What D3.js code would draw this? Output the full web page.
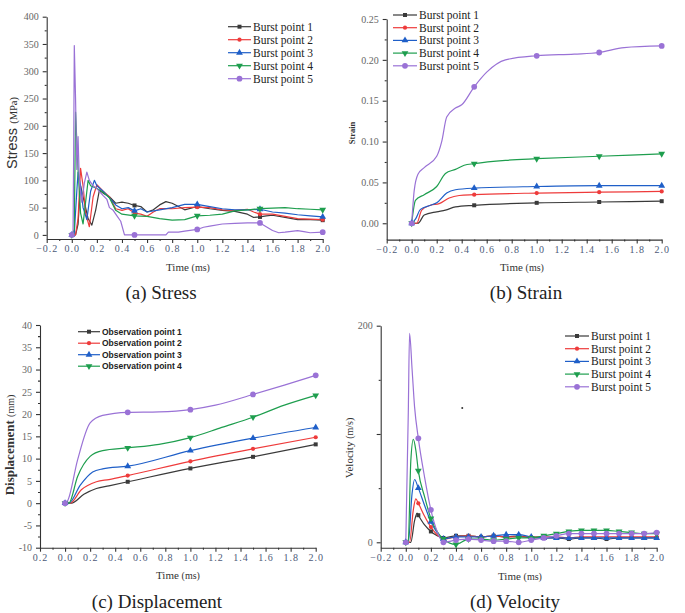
<!DOCTYPE html>
<html><head><meta charset="utf-8">
<script src="https://cdn.jsdelivr.net/npm/d3@7"></script>
<style>body{margin:0;background:#fff}svg{display:block}</style>
</head><body>
<svg id="c" width="685" height="613"></svg>
<script>
// ---------- DATA ----------
const seriesColors = ["#3a3a3a", "#ee3b3b", "#1f5fc8", "#1e9e4e", "#9a72d6"];
const seriesSymbols = ["square", "circle", "triangle", "triangleDown", "dot"];
const burstNames = ["Burst point 1", "Burst point 2", "Burst point 3", "Burst point 4", "Burst point 5"];
const obsNames = ["Observation point 1", "Observation point 2", "Observation point 3", "Observation point 4"];
const xTicks = [-0.2, 0.0, 0.2, 0.4, 0.6, 0.8, 1.0, 1.2, 1.4, 1.6, 1.8, 2.0];
const markTimesCoarse = [0, 0.5, 1.0, 1.5, 2.0];
const markTimesFine = [0,0.1,0.2,0.3,0.4,0.5,0.6,0.7,0.8,0.9,1.0,1.1,1.2,1.3,1.4,1.5,1.6,1.7,1.8,1.9,2.0];

// (a) Stress (MPa) vs time (ms)
const stress1 = [[0,0],[0.03,0],[0.05,20],[0.07,90],[0.1,60],[0.13,30],[0.16,18],[0.19,45],[0.22,82],[0.26,75],[0.3,70],[0.35,58],[0.4,60],[0.45,58],[0.5,54],[0.55,52],[0.6,42],[0.65,46],[0.7,55],[0.75,61],[0.8,58],[0.9,46],[1.0,52],[1.1,48],[1.2,45],[1.3,43],[1.4,38],[1.45,32],[1.5,33],[1.55,35],[1.6,36],[1.7,32],[1.8,28],[1.9,28],[2.0,27]];
const stress2 = [[0,0],[0.03,0],[0.05,30],[0.07,122],[0.09,90],[0.11,40],[0.14,15],[0.17,70],[0.2,92],[0.25,80],[0.3,70],[0.35,48],[0.4,45],[0.45,48],[0.5,40],[0.55,38],[0.6,34],[0.65,42],[0.7,48],[0.8,48],[0.9,50],[1.0,51],[1.1,50],[1.2,46],[1.3,45],[1.4,47],[1.45,42],[1.5,38],[1.6,38],[1.7,34],[1.8,30],[1.9,29],[2.0,28]];
const stress3 = [[0,0],[0.02,3],[0.04,80],[0.05,115],[0.07,90],[0.09,50],[0.12,28],[0.15,80],[0.18,100],[0.2,90],[0.25,80],[0.3,68],[0.35,55],[0.4,48],[0.45,50],[0.5,44],[0.55,48],[0.6,42],[0.7,46],[0.8,50],[0.9,56],[1.0,56],[1.1,52],[1.2,48],[1.3,46],[1.4,46],[1.5,47],[1.6,42],[1.7,40],[1.8,37],[1.9,35],[2.0,33]];
const stress4 = [[0,0],[0.02,10],[0.03,225],[0.05,120],[0.07,40],[0.09,20],[0.11,60],[0.13,100],[0.15,90],[0.2,85],[0.25,78],[0.3,68],[0.35,45],[0.4,38],[0.5,35],[0.6,34],[0.7,30],[0.8,27],[0.9,28],[1.0,35],[1.1,36],[1.2,38],[1.3,44],[1.4,46],[1.5,48],[1.6,49],[1.7,50],[1.8,48],[1.9,47],[2.0,46]];
const stress5 = [[0,0],[0.01,5],[0.015,150],[0.02,347],[0.03,250],[0.04,120],[0.05,180],[0.06,100],[0.08,60],[0.1,95],[0.12,115],[0.14,100],[0.17,90],[0.2,85],[0.25,72],[0.28,65],[0.3,50],[0.33,45],[0.36,35],[0.39,25],[0.42,0],[0.5,0],[0.6,0],[0.75,0],[0.77,5],[0.85,5],[0.9,7],[1.0,10],[1.05,14],[1.1,16],[1.2,20],[1.3,21],[1.4,22],[1.5,22],[1.55,15],[1.6,8],[1.65,4],[1.7,5],[1.8,8],[1.85,6],[1.9,4],[2.0,5]];
const stressTicks = [0,50,100,150,200,250,300,350,400];

// (b) Strain vs time (ms)
const strain1 = [[0,0],[0.05,0],[0.1,0.010],[0.2,0.014],[0.27,0.016],[0.35,0.020],[0.5,0.022],[1.0,0.025],[1.5,0.026],[2.0,0.027]];
const strain2 = [[0,0],[0.04,0],[0.08,0.016],[0.15,0.022],[0.22,0.024],[0.3,0.031],[0.38,0.034],[0.5,0.035],[1.0,0.037],[1.5,0.038],[2.0,0.039]];
const strain3 = [[0,0],[0.03,0.005],[0.07,0.017],[0.15,0.022],[0.2,0.025],[0.28,0.037],[0.35,0.041],[0.5,0.043],[1.0,0.045],[1.5,0.046],[2.0,0.046]];
const strain4 = [[0,0],[0.03,0.028],[0.1,0.035],[0.2,0.045],[0.27,0.061],[0.35,0.066],[0.42,0.071],[0.5,0.073],[0.75,0.077],[1.0,0.079],[1.5,0.082],[2.0,0.085]];
const strain5 = [[0,0],[0.02,0.040],[0.05,0.060],[0.1,0.068],[0.2,0.082],[0.24,0.100],[0.28,0.130],[0.35,0.141],[0.4,0.145],[0.5,0.167],[0.6,0.185],[0.75,0.200],[1.0,0.205],[1.3,0.207],[1.5,0.209],[1.7,0.215],[2.0,0.217]];
const strainTicks = [0,0.05,0.10,0.15,0.20,0.25];
const strainLabels = ["0.00","0.05","0.10","0.15","0.20","0.25"];

// (c) Displacement (mm) vs time (ms)
const disp1 = [[0,0],[0.05,0],[0.15,2.0],[0.25,3.3],[0.35,3.9],[0.5,4.8],[1.0,7.8],[1.5,10.4],[2.0,13.2]];
const disp2 = [[0,0],[0.04,0],[0.13,3.0],[0.25,4.8],[0.35,5.3],[0.5,6.2],[1.0,9.4],[1.5,12.2],[2.0,14.8]];
const disp3 = [[0,0],[0.03,0],[0.12,4.0],[0.22,7.0],[0.3,7.7],[0.5,8.3],[1.0,11.8],[1.5,14.6],[2.0,17.0]];
const disp4 = [[0,0],[0.03,0],[0.1,6.0],[0.2,10.5],[0.3,11.8],[0.5,12.4],[0.75,13.2],[1.0,14.7],[1.25,17.0],[1.5,19.3],[1.75,22.0],[2.0,24.2]];
const disp5 = [[0,0],[0.02,0.5],[0.1,9.7],[0.2,18.0],[0.3,19.7],[0.5,20.4],[0.75,20.5],[1.0,21.0],[1.2,22.0],[1.5,24.4],[1.75,26.5],[2.0,28.7]];
const dispTicks = [-10,-5,0,5,10,15,20,25,30,35,40];

// (d) Velocity (m/s) vs time (ms)
const vel1 = [[0,0],[0.04,0],[0.07,20],[0.09,27],[0.1,25],[0.15,16],[0.2,10],[0.25,6],[0.3,4],[0.4,6],[0.5,6],[0.6,5],[0.7,6],[0.8,5],[0.9,6],[1.0,4],[1.1,4],[1.2,4],[1.3,3],[1.4,4],[1.5,4],[1.6,3],[1.7,4],[1.8,4],[1.9,4],[2.0,4]];
const vel2 = [[0,0],[0.03,0],[0.06,30],[0.08,40],[0.1,36],[0.15,24],[0.2,14],[0.25,7],[0.3,3],[0.4,5],[0.5,6],[0.6,5],[0.7,6],[0.8,5],[0.9,5],[1.0,5],[1.1,5],[1.2,5],[1.3,4],[1.4,5],[1.5,5],[1.6,5],[1.7,5],[1.8,5],[1.9,5],[2.0,5]];
const vel3 = [[0,0],[0.02,0],[0.05,45],[0.07,58],[0.1,50],[0.15,34],[0.2,19],[0.25,9],[0.3,3],[0.4,5],[0.5,5],[0.6,5],[0.7,6],[0.8,7],[0.9,7],[1.0,5],[1.1,4],[1.2,4],[1.3,4],[1.4,4],[1.5,4],[1.6,4],[1.7,4],[1.8,4],[1.9,4],[2.0,4]];
const vel4 = [[0,0],[0.02,2],[0.04,75],[0.06,95],[0.08,85],[0.1,66],[0.15,42],[0.2,22],[0.25,10],[0.3,3],[0.4,-2],[0.5,3],[0.6,3],[0.7,2],[0.8,3],[0.9,4],[1.0,4],[1.1,6],[1.2,8],[1.3,10],[1.4,11],[1.5,11],[1.6,11],[1.7,10],[1.8,9],[1.9,8],[2.0,8]];
const vel5 = [[0,0],[0.02,120],[0.03,193],[0.05,160],[0.07,125],[0.1,96],[0.15,60],[0.2,30],[0.25,10],[0.3,0],[0.4,2],[0.5,3],[0.6,2],[0.7,1],[0.8,1],[0.9,0],[1.0,2],[1.1,4],[1.2,6],[1.3,8],[1.4,8],[1.5,8],[1.6,8],[1.7,8],[1.8,8],[1.9,8],[2.0,9]];
const velTicks = [0,100,200];
const velLabels = ["0","","200"];
const velStray = [[0.45,124]];

// ---------- DRAWING ----------
const svg = d3.select("#c");
const serif = "'Liberation Serif','Times New Roman',serif";
const sans = "'Liberation Sans',Arial,sans-serif";
const tickColor = "#4d5a78";

function symbolPath(kind, sz) {
  const types = {square: d3.symbolSquare, circle: d3.symbolCircle, triangle: d3.symbolTriangle,
                 triangleDown: d3.symbolTriangle, dot: d3.symbolCircle};
  return d3.symbol().type(types[kind]).size(sz)();
}
function drawMarker(g, kind, color, x, y) {
  const sizes = {square: 16, circle: 14, triangle: 20, triangleDown: 20, dot: 26};
  g.append("path").attr("d", symbolPath(kind, sizes[kind]))
    .attr("transform", `translate(${x},${y})` + (kind === "triangleDown" ? " rotate(180)" : ""))
    .attr("fill", color);
}

function panel(cfg) {
  const g = svg.append("g");
  const x = d3.scaleLinear().domain([-0.2, 2.0]).range(cfg.xr);
  const y = d3.scaleLinear().domain(cfg.yd).range(cfg.yr);
  const ya = d3.axisLeft(y).tickValues(cfg.yTicks).tickSize(4).tickSizeOuter(0)
    .tickFormat((d, i) => cfg.yLabels ? cfg.yLabels[i] : String(d));
  const yg = g.append("g").attr("transform", `translate(${cfg.xr[0]},0)`).call(ya);
  const yMinor = [];
  for (let i = 0; i < cfg.yTicks.length - 1; i++) yMinor.push((cfg.yTicks[i] + cfg.yTicks[i+1]) / 2);
  const ym = g.append("g").attr("transform", `translate(${cfg.xr[0]},0)`)
    .call(d3.axisLeft(y).tickValues(yMinor).tickSize(2).tickFormat(""));
  ym.select(".domain").remove();
  yg.selectAll("text").attr("font-family", serif).attr("font-size", cfg.yFont || 10).attr("fill", "#666").attr("dx", -1);
  const xa = d3.axisBottom(x).tickValues(xTicks).tickSize(4).tickSizeOuter(0)
    .tickFormat(d => cfg.noMinus && d < 0 ? "0.2" : (d < 0 ? "\u22120.2" : d.toFixed(1)));
  const xg = g.append("g").attr("transform", `translate(0,${cfg.yr[0]})`).call(xa);
  const xMinor = xTicks.slice(0, -1).map(d => d + 0.1);
  const xm = g.append("g").attr("transform", `translate(0,${cfg.yr[0]})`)
    .call(d3.axisBottom(x).tickValues(xMinor).tickSize(2).tickFormat(""));
  xm.select(".domain").remove();
  xg.selectAll("text").attr("font-family", serif).attr("font-size", 10).attr("fill", tickColor)
    .attr("letter-spacing", "1px").attr("dy", "0.6em");
  g.selectAll(".domain, .tick line").attr("stroke", "#333").attr("stroke-width", 1.1);
  const line = d3.line().x(d => x(d[0])).y(d => y(d[1])).curve(cfg.curve);
  cfg.series.forEach((s, i) => {
    g.append("path").datum(s).attr("d", line).attr("fill", "none")
      .attr("stroke", seriesColors[i]).attr("stroke-width", 1.2).attr("stroke-linejoin", "round");
  });
  cfg.series.forEach((s, i) => {
    s.filter(d => cfg.marks.some(m => Math.abs(m - d[0]) < 1e-6))
      .forEach(d => drawMarker(g, seriesSymbols[i], seriesColors[i], x(d[0]), y(d[1])));
  });
  cfg.legendNames.forEach((name, i) => {
    const ly = cfg.legend[1] + i * cfg.legend[2];
    const lx = cfg.legend[0];
    g.append("line").attr("x1", lx).attr("x2", lx + cfg.legend[3]).attr("y1", ly).attr("y2", ly)
      .attr("stroke", seriesColors[i]).attr("stroke-width", 1.2);
    drawMarker(g, seriesSymbols[i], seriesColors[i], lx + cfg.legend[3] / 2, ly);
    g.append("text").attr("x", lx + cfg.legend[3] + 2).attr("y", ly).attr("dy", "0.35em")
      .attr("font-family", cfg.legendFamily).attr("font-size", cfg.legendSize)
      .attr("font-weight", cfg.legendWeight || "normal").attr("fill", "#222").text(name);
  });
  const xt = g.append("text").attr("x", cfg.xTitle[0]).attr("y", cfg.xTitle[1]).attr("text-anchor", "middle")
    .attr("font-family", serif).attr("font-size", 11).attr("fill", "#333");
  xt.append("tspan").text("Time ");
  xt.append("tspan").attr("font-size", 10).text("(ms)");
  const yt = g.append("text").attr("transform", `translate(${cfg.yTitle[0]},${cfg.yTitle[1]}) rotate(-90)`)
    .attr("text-anchor", "middle").attr("fill", "#333");
  cfg.yTitleParts.forEach(p => yt.append("tspan").attr("font-family", p[1]).attr("font-size", p[2])
    .attr("font-weight", p[3] || "normal").text(p[0]));
  g.append("text").attr("x", cfg.caption[0]).attr("y", cfg.caption[1]).attr("text-anchor", "middle")
    .attr("font-family", serif).attr("font-size", 19).attr("fill", "#222").text(cfg.caption[2]);
  return {g, x, y};
}

panel({xr: [46.7, 322.7], yd: [-7.5, 400], yr: [239, 16.7], yTicks: stressTicks,
  series: [stress1, stress2, stress3, stress4, stress5], curve: d3.curveLinear, marks: markTimesCoarse,
  legendNames: burstNames, legend: [228, 26.7, 13, 23], legendFamily: serif, legendSize: 11.5,
  xTitle: [188, 271], yTitle: [17, 133], yTitleParts: [["Stress ", sans, 14.5], ["(MPa)", serif, 10.5]],
  caption: [161, 299, "(a) Stress"]});

panel({xr: [386.7, 661.7], yd: [-0.02, 0.25], yr: [239.6, 19], yTicks: strainTicks, yLabels: strainLabels,
  series: [strain1, strain2, strain3, strain4, strain5], curve: d3.curveMonotoneX, marks: markTimesCoarse,
  legendNames: burstNames, legend: [393, 15, 12.7, 24], legendFamily: serif, legendSize: 11.5,
  xTitle: [522, 271], yTitle: [355, 133], yTitleParts: [["Strain", serif, 8.5, "bold"]],
  caption: [526, 299, "(b) Strain"]});

panel({xr: [40, 315.7], yd: [-10, 40], yr: [547.7, 325], yTicks: dispTicks, noMinus: true,
  series: [disp1, disp2, disp3, disp4, disp5], curve: d3.curveMonotoneX, marks: markTimesCoarse,
  legendNames: obsNames, legend: [78, 331.7, 11.5, 22], legendFamily: sans, legendSize: 8.5, legendWeight: "bold",
  xTitle: [178, 579], yTitle: [14, 445], yTitleParts: [["Displacement ", serif, 13, "bold"], ["(mm)", serif, 10]],
  caption: [157, 608, "(c) Displacement"]});

const d = panel({xr: [380.7, 656.7], yd: [-5, 200], yr: [547.7, 325.7], yTicks: velTicks, yLabels: velLabels,
  series: [vel1, vel2, vel3, vel4, vel5], curve: d3.curveMonotoneX, marks: markTimesFine,
  legendNames: burstNames, legend: [565, 336, 12.7, 24], legendFamily: serif, legendSize: 11.5,
  xTitle: [520, 580], yTitle: [353, 448], yTitleParts: [["Velocity  ", serif, 11], ["(m/s)", serif, 10]],
  caption: [515, 608, "(d) Velocity"]});
velStray.forEach(p => d.g.append("circle").attr("cx", d.x(p[0])).attr("cy", d.y(p[1])).attr("r", 1).attr("fill", "#333"));
</script>
</body></html>
